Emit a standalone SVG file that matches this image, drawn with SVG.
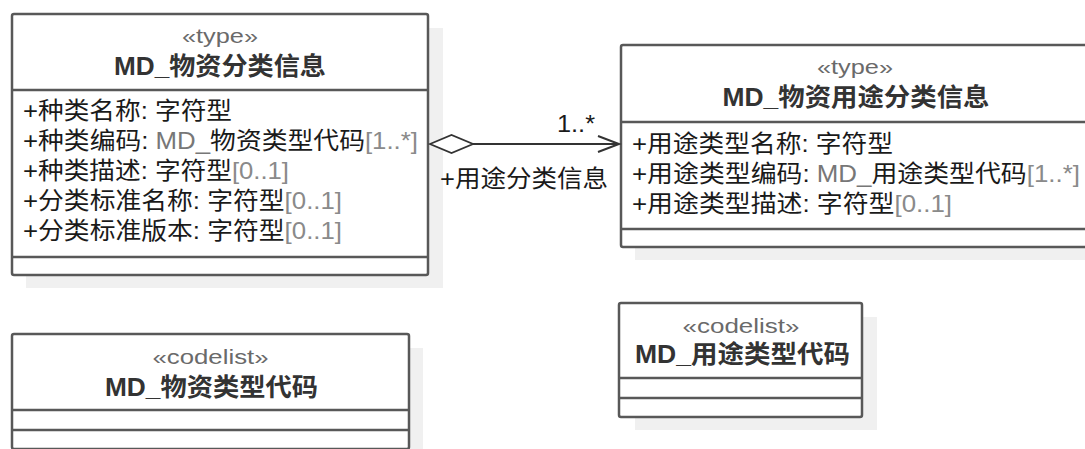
<svg xmlns="http://www.w3.org/2000/svg" width="1085" height="449" viewBox="0 0 1085 449">
<style>
.shadow{fill:#f0f0f0;stroke:none}
.box{fill:#fff;stroke:#585858;stroke-width:2.5}
.div{stroke:#585858;stroke-width:2.5;fill:none}
text{font-family:"Liberation Sans","Noto Sans CJK SC",sans-serif}
.st{font-size:20px;fill:#6a6a6a;text-anchor:middle}
.ti{font-size:25px;font-weight:bold;fill:#333;text-anchor:middle}
.at{font-size:24px;fill:#1a1a1a}
.ty{fill:#777}
.mu{fill:#8a8a8a}
.lb{font-size:24px;fill:#1a1a1a}
.edge{stroke:#333;stroke-width:2;fill:none}
</style>
<rect width="1085" height="449" fill="#fff"/>
<g id="node-wuzi-fenlei">
<rect class="shadow" x="26" y="28" width="417" height="260"/>
<rect class="box" x="12" y="14" width="416" height="261" rx="2"/>
<line class="div" x1="12" y1="90" x2="428" y2="90"/>
<line class="div" x1="12" y1="257" x2="428" y2="257"/>
<text class="st" x="220" y="43" textLength="76" lengthAdjust="spacingAndGlyphs">«type»</text>
<text class="ti" x="220" y="75" textLength="212" lengthAdjust="spacingAndGlyphs">MD_物资分类信息</text>
<text class="at" x="23" y="119" textLength="209" lengthAdjust="spacingAndGlyphs">+种类名称: 字符型</text>
<text class="at" x="23" y="149" textLength="395" lengthAdjust="spacingAndGlyphs">+种类编码: <tspan class="ty">MD_</tspan>物资类型代码<tspan class="mu">[1..*]</tspan></text>
<text class="at" x="23" y="179" textLength="266" lengthAdjust="spacingAndGlyphs">+种类描述: 字符型<tspan class="mu">[0..1]</tspan></text>
<text class="at" x="23" y="209" textLength="319" lengthAdjust="spacingAndGlyphs">+分类标准名称: 字符型<tspan class="mu">[0..1]</tspan></text>
<text class="at" x="23" y="239" textLength="319" lengthAdjust="spacingAndGlyphs">+分类标准版本: 字符型<tspan class="mu">[0..1]</tspan></text>
</g>
<g id="node-yongtu-fenlei">
<rect class="shadow" x="635" y="59" width="470" height="201"/>
<rect class="box" x="621" y="45" width="470" height="202" rx="2"/>
<line class="div" x1="621" y1="122" x2="1091" y2="122"/>
<line class="div" x1="621" y1="229" x2="1091" y2="229"/>
<text class="st" x="855" y="74" textLength="76" lengthAdjust="spacingAndGlyphs">«type»</text>
<text class="ti" x="856" y="106" textLength="267" lengthAdjust="spacingAndGlyphs">MD_物资用途分类信息</text>
<text class="at" x="632" y="152" textLength="261" lengthAdjust="spacingAndGlyphs">+用途类型名称: 字符型</text>
<text class="at" x="632" y="182" textLength="448" lengthAdjust="spacingAndGlyphs">+用途类型编码: <tspan class="ty">MD_</tspan>用途类型代码<tspan class="mu">[1..*]</tspan></text>
<text class="at" x="632" y="212" textLength="320" lengthAdjust="spacingAndGlyphs">+用途类型描述: 字符型<tspan class="mu">[0..1]</tspan></text>
</g>
<g id="node-wuzi-leixing-daima">
<rect class="shadow" x="26" y="348" width="397" height="120"/>
<rect class="box" x="12" y="334" width="397" height="115" rx="2"/>
<line class="div" x1="12" y1="410" x2="409" y2="410"/>
<line class="div" x1="12" y1="430" x2="409" y2="430"/>
<text class="st" x="210.5" y="364" textLength="116" lengthAdjust="spacingAndGlyphs">«codelist»</text>
<text class="ti" x="211.5" y="396" textLength="213" lengthAdjust="spacingAndGlyphs">MD_物资类型代码</text>
</g>
<g id="node-yongtu-leixing-daima">
<rect class="shadow" x="635" y="317" width="242" height="113"/>
<rect class="box" x="619" y="303" width="243" height="114" rx="2"/>
<line class="div" x1="619" y1="378" x2="862" y2="378"/>
<line class="div" x1="619" y1="398" x2="862" y2="398"/>
<text class="st" x="741" y="333" textLength="117" lengthAdjust="spacingAndGlyphs">«codelist»</text>
<text class="ti" x="742.5" y="363" textLength="215" lengthAdjust="spacingAndGlyphs">MD_用途类型代码</text>
</g>
<g id="connectors">
<line class="edge" x1="473" y1="144" x2="619" y2="144"/>
<polygon points="430,144 451.5,135 473,144 451.5,153" fill="#fff" stroke="#333" stroke-width="1.8"/>
<polyline class="edge" points="598,136 619,144 598,152"/>
<text class="lb" x="557" y="132" textLength="38" lengthAdjust="spacingAndGlyphs">1..*</text>
<text class="lb" x="440" y="187" textLength="168" lengthAdjust="spacingAndGlyphs">+用途分类信息</text>
</g>
</svg>
